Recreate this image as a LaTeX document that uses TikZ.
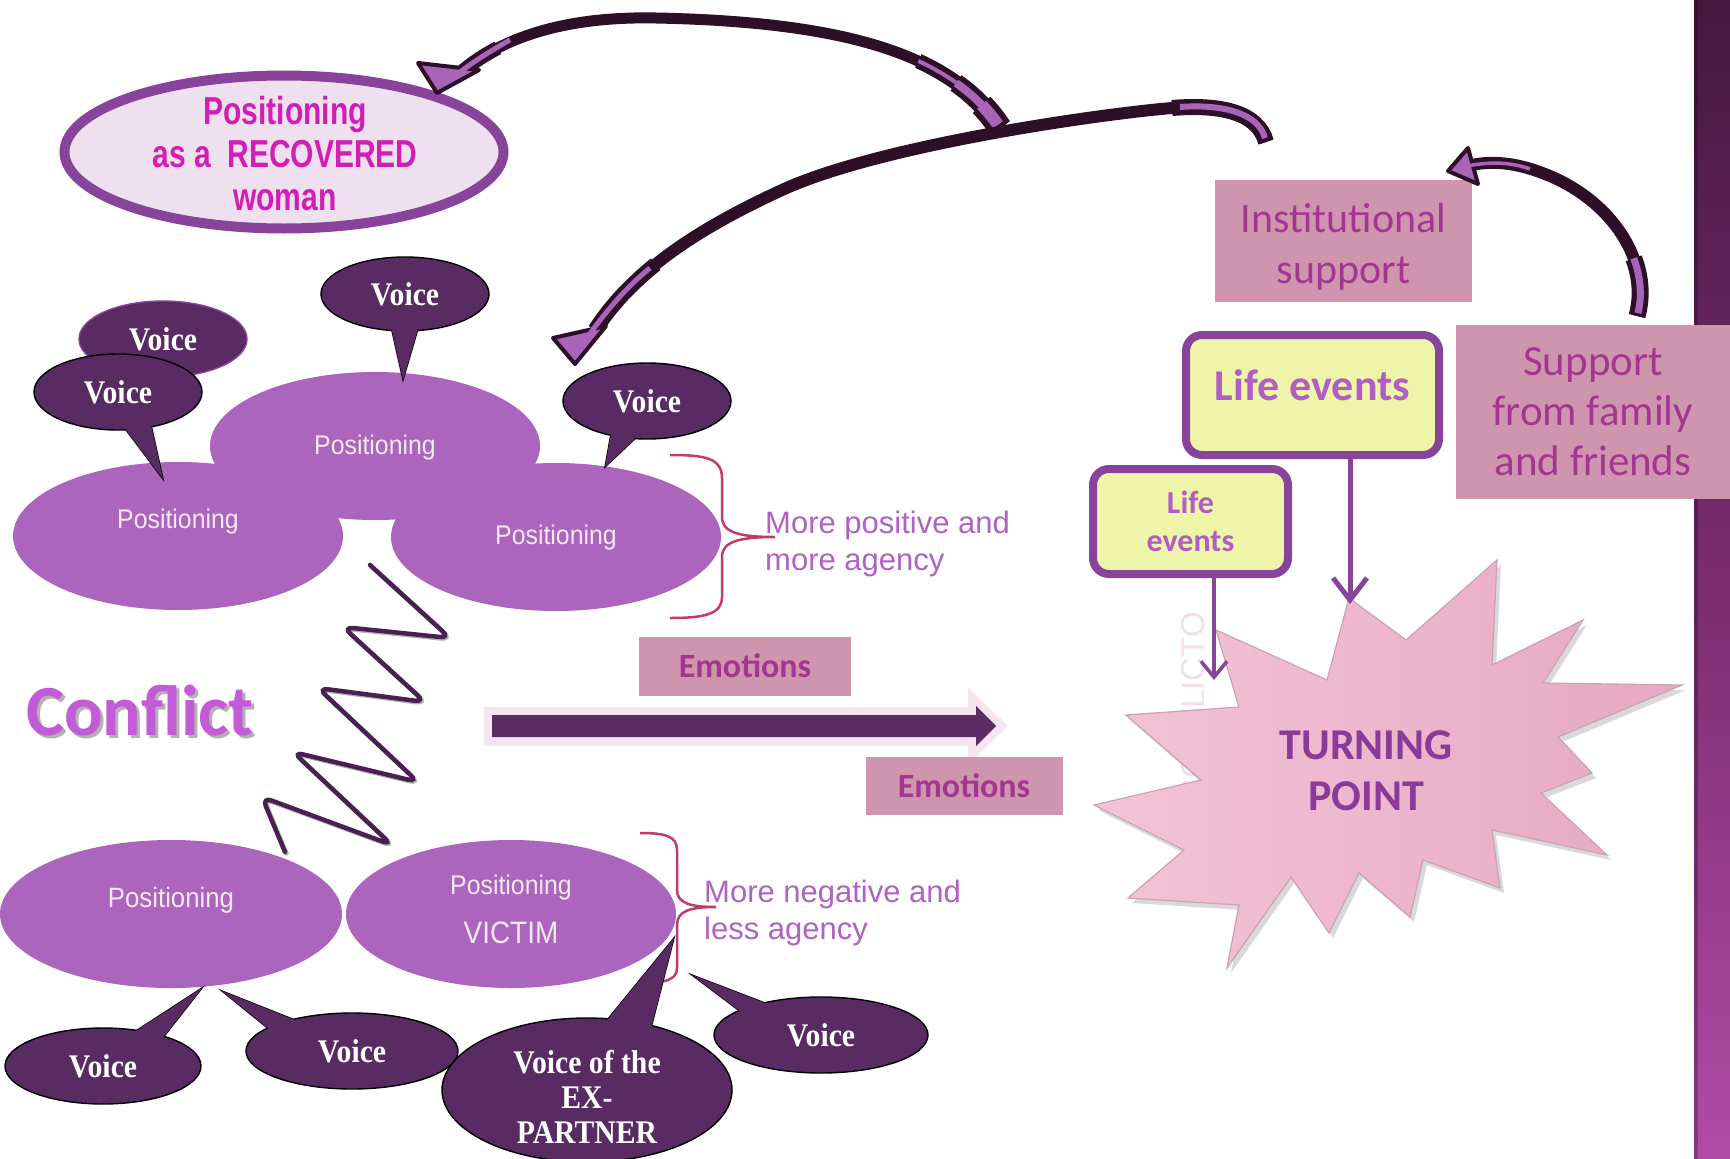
\documentclass[tikz,border=0pt]{standalone}
\usepackage{fontspec}
\usepackage{graphicx}
\setmainfont{Carlito}
\newfontfamily\arialf{Liberation Sans}
\newfontfamily\timesf{Liberation Serif}
\usetikzlibrary{shapes.geometric,arrows.meta}
\definecolor{posfill}{HTML}{AB65BD}
\definecolor{postext}{HTML}{F7E8F5}
\definecolor{voicefill}{HTML}{582B62}
\definecolor{arrdark}{HTML}{2D0F27}
\definecolor{arrpurp}{HTML}{A865B8}
\definecolor{bracecol}{HTML}{C13B6B}
\definecolor{sidetxt}{HTML}{B062C2}
\definecolor{pinkbox}{HTML}{CF95AE}
\definecolor{pinktxt}{HTML}{A2378F}
\definecolor{lifefill}{HTML}{EEF4A8}
\definecolor{lifeline}{HTML}{87449A}
\definecolor{lifetxt}{HTML}{B05EC5}
\definecolor{recfill}{HTML}{EFE0F0}
\definecolor{rectxt}{HTML}{D11FB5}
\definecolor{conflictc}{HTML}{C35AD7}
\definecolor{barrowout}{HTML}{F5E5EE}
\definecolor{barrowin}{HTML}{5A2C62}
\definecolor{zigc}{HTML}{4A1F52}
\definecolor{starc}{HTML}{8A3A98}
\definecolor{starlight}{HTML}{F3C4D6}
\definecolor{stardark}{HTML}{E6A8C2}
\definecolor{starline}{HTML}{C7A3B4}
\definecolor{bartop}{HTML}{451840}
\definecolor{barmid}{HTML}{7A2D70}
\definecolor{barbot}{HTML}{B24BA7}
\definecolor{faintc}{HTML}{F3DFE8}
\newcommand{\voicetxt}[1]{\scalebox{0.9}[1]{#1}}
\newcommand{\ptxtsc}[1]{\scalebox{0.92}[1]{#1}}
\newcommand{\rectxtsc}[1]{\scalebox{0.77}[1]{#1}}
\tikzset{
 posell/.style={ellipse, fill=posfill, inner sep=0pt, minimum width=330pt, minimum height=148pt},
 postxt/.style={text=postext, font=\arialf\fontsize{27}{36}\selectfont, inner sep=0pt, align=center},
 voiceell/.style={ellipse, fill=voicefill, draw=black, line width=1.4pt, inner sep=0pt, text=white, align=center, font=\timesf\bfseries\fontsize{33}{35}\selectfont},
 voicetext/.style={inner sep=0pt, text=white, align=center, font=\timesf\bfseries\fontsize{33}{35}\selectfont},
 tail/.style={fill=voicefill, draw=black, line width=1.4pt, line join=miter},
 tailfill/.style={fill=voicefill},
 pinkrect/.style={rectangle, fill=pinkbox, inner sep=0pt, text=pinktxt, align=center},
 pinktext/.style={inner sep=0pt, text=pinktxt, align=center},
 lifebox/.style={rectangle, rounded corners=16pt, fill=lifefill, draw=lifeline, line width=8pt, inner sep=0pt, text=lifetxt, align=center},
 bracest/.style={draw=bracecol, line width=2.5pt},
 sidetext/.style={text=sidetxt, font=\arialf\fontsize{31}{37}\selectfont, align=left, inner sep=0pt},
 curvebody/.style={draw=arrdark, line width=11pt},
 curvein/.style={draw=arrpurp, line width=4pt},
 curvehead/.style={fill=arrpurp, draw=arrdark, line width=4pt, line join=round},
 lifearrow/.style={draw=lifeline, line width=5pt, -{Straight Barb[length=22pt,width=34pt]}},
 lifearrowsm/.style={draw=lifeline, line width=3.5pt, -{Straight Barb[length=16pt,width=26pt]}},
}
\begin{document}
\begin{tikzpicture}[x=1pt,y=-1pt]
\useasboundingbox (0,0) rectangle (1730,1159);
\fill[white] (0,0) rectangle (1730,1159);

% right bar
\shade[top color=bartop, bottom color=barbot, middle color=barmid] (1694,0) rectangle (1730,1159);
\fill[black, opacity=0.25] (1694,0) rectangle (1698,1159);

% faint background word
\node[rotate=90, text=faintc, font=\arialf\fontsize{33}{33}\selectfont, inner sep=0pt] (cfto) at (1193,707) {CONFLICTO};

% star
\fill[black, opacity=0.15, shift={(4,5)}] (1216,630) -- (1327,680) -- (1349,598) -- (1406,640) -- (1497,560) -- (1492,665) -- (1583,620) -- (1543,683) -- (1682,685) -- (1558,737) -- (1592,773) -- (1541,793) -- (1607,855) -- (1492,830) -- (1500,888) -- (1423,860) -- (1410,917) -- (1359,873) -- (1329,933) -- (1291,877) -- (1227,968) -- (1239,905) -- (1128,898) -- (1184,850) -- (1094,805) -- (1201,780) -- (1126,715) -- (1239,707) -- cycle;
\shadedraw[left color=starlight, right color=stardark, draw=starline, line width=1.2pt, line join=miter] (1216,630) -- (1327,680) -- (1349,598) -- (1406,640) -- (1497,560) -- (1492,665) -- (1583,620) -- (1543,683) -- (1682,685) -- (1558,737) -- (1592,773) -- (1541,793) -- (1607,855) -- (1492,830) -- (1500,888) -- (1423,860) -- (1410,917) -- (1359,873) -- (1329,933) -- (1291,877) -- (1227,968) -- (1239,905) -- (1128,898) -- (1184,850) -- (1094,805) -- (1201,780) -- (1126,715) -- (1239,707) -- cycle;
\node[font=\bfseries\fontsize{44}{51}\selectfont, text=starc, align=center, inner sep=0pt] (tp) at (1366,771) {TURNING\\POINT};

% life events
\node[lifebox, minimum width=253pt, minimum height=120pt, font=\bfseries\fontsize{44}{50}\selectfont, text depth=19pt] (le2) at (1312.5,395) {Life events};
\node[lifebox, minimum width=195pt, minimum height=105pt, font=\bfseries\fontsize{32}{38}\selectfont] (le1) at (1190.5,521.5) {Life\\events};
\coordinate (tS) at (1214,680);
\coordinate (tB2) at (1350,604);
\draw[lifearrowsm] (le1.south -| tS) -- (tS);
\draw[lifearrow] (le2.south -| tB2) -- (tB2);

% support boxes
\node[pinkrect, minimum width=257pt, minimum height=122pt] (inst) at (1343.5,241) {};
\node[pinktext, font=\fontsize{42}{51}\selectfont] (instT) at (1343.5,247) {Institutional\\support};
\node[pinkrect, minimum width=274pt, minimum height=174pt, font=\fontsize{43}{50}\selectfont] (fam) at (1593,412) {Support\\from family\\and friends};

% arrow C (family -> institutional)
\coordinate (cT) at (1637,316);
\coordinate (cH) at (1472,165);
\draw[curvebody, line width=12pt] (cT) .. controls (1652,262) and (1612,200) .. (1545,174) .. controls (1520,164) and (1495,160) .. (cH);
\draw[draw=arrdark, line width=17pt] (cT) .. controls (1642.25,297.1) and (1640.8,277.2) .. (1633.7,258.3);
\draw[curvein, line width=7pt, shorten <=3pt] (cT) .. controls (1642.25,297.1) and (1640.8,277.2) .. (1633.7,258.3);
\filldraw[curvehead] (1468,148) -- (1448,171) -- (1478,184) -- cycle;
\draw[curvein, line width=3.5pt] (1530,169) .. controls (1510,162) and (1490,161) .. (1462,167);

% recovered ellipse
\node[ellipse, fill=recfill, draw=lifeline, line width=10pt, minimum width=439pt, minimum height=153pt, inner sep=0pt] (rec) at (284,152) {};
\node[text=rectxt, font=\arialf\bfseries\fontsize{39}{43}\selectfont, align=center, inner sep=0pt] (rect) at (285,154) {\rectxtsc{Positioning}\\\rectxtsc{as a~~RECOVERED}\\\rectxtsc{woman}};

% top positioning cluster
\node[posell] (pTop) at (375,446) {};
\node[posell] (pLeft) at (178,536) {};
\node[posell] (pRight) at (556,537) {};
\node[postxt] (pTopT) at (375,448) {\ptxtsc{Positioning}};
\node[postxt] (pLeftT) at (178,522) {\ptxtsc{Positioning}};
\node[postxt] (pRightT) at (556,538) {\ptxtsc{Positioning}};

% top voices
\node[voiceell, draw=lifeline, minimum width=168pt, minimum height=76pt] (tv1) at (163,339) {\voicetxt{Voice}};
\filldraw[tail] (120,422) -- (150,420) -- (163,479) -- cycle;
\node[voiceell, minimum width=168pt, minimum height=76pt] (tv2) at (118,392) {\voicetxt{Voice}};
\fill[tailfill] (120,422) -- (150,420) -- (163,479) -- cycle;
\filldraw[tail] (390,322) -- (420,322) -- (403,380) -- cycle;
\node[voiceell, minimum width=168pt, minimum height=74pt] (tv3) at (405,294) {\voicetxt{Voice}};
\fill[tailfill] (390,322) -- (420,322) -- (403,380) -- cycle;
\filldraw[tail] (612,428) -- (642,432) -- (605,467) -- cycle;
\node[voiceell, minimum width=168pt, minimum height=76pt] (tv4) at (647,401) {\voicetxt{Voice}};
\fill[tailfill] (612,428) -- (642,432) -- (605,467) -- cycle;

% top brace and text
\draw[bracest] (670,455) .. controls (705,455) and (722,458) .. (722,478) -- (722,517) .. controls (722,532) and (738,537) .. (775,537) .. controls (738,537) and (722,542) .. (722,557) -- (722,597) .. controls (722,614) and (705,618) .. (670,618);
\node[sidetext, anchor=west] (posT) at (765,544) {More positive and\\more agency};

% emotions and big arrow
\node[pinkrect, minimum width=212pt, minimum height=59pt, font=\bfseries\fontsize{34}{38}\selectfont] (emo1) at (745,666) {Emotions};
\fill[barrowout] (484,707) -- (968,707) -- (968,687) -- (1008,726) -- (968,765) -- (968,746) -- (484,746) -- cycle;
\fill[barrowin] (492,715) -- (976,715) -- (976,706) -- (996,726) -- (976,746) -- (976,737) -- (492,737) -- cycle;
\node[pinkrect, minimum width=197pt, minimum height=58pt, font=\bfseries\fontsize{34}{38}\selectfont] (emo2) at (964,785.5) {Emotions};

% conflict
\node[font=\bfseries\fontsize{72}{72}\selectfont, text=gray!60, inner sep=0pt] (conflS) at (143,713) {Conflict};
\node[font=\bfseries\fontsize{72}{72}\selectfont, text=conflictc, inner sep=0pt] (confl) at (140,710) {Conflict};

% zigzag
\draw[black!30, line width=4.5pt, rounded corners=10pt, line cap=round, shift={(1.5,1.5)}] (370,565) -- (450,638) -- (343,627) -- (425,702) -- (318,688) -- (418,782) -- (293,752) -- (392,845) -- (262,797) -- (285,852);
\draw[zigc, line width=4.5pt, rounded corners=10pt, line cap=round] (370,565) -- (450,638) -- (343,627) -- (425,702) -- (318,688) -- (418,782) -- (293,752) -- (392,845) -- (262,797) -- (285,852);

% bottom positioning
\node[posell, minimum width=342pt] (pBL) at (171,914) {};
\node[posell] (pV) at (511,914) {};
\node[postxt, font=\arialf\fontsize{28}{36}\selectfont] (pBLT) at (171,900) {\ptxtsc{Positioning}};
\node[postxt] (pVT1) at (511,888) {\ptxtsc{Positioning}};
\node[postxt, font=\arialf\fontsize{31}{36}\selectfont] (pVT2) at (511,933) {\voicetxt{VICTIM}};

% bottom brace and text
\draw[bracest] (640,833) .. controls (665,833) and (677,836) .. (677,850) -- (677,890) .. controls (677,903) and (690,907) .. (716,907) .. controls (690,907) and (677,911) .. (677,925) -- (677,968) .. controls (677,980) and (665,983) .. (640,983);
\node[sidetext, anchor=west] (negT) at (704,913) {More negative and\\less agency};

% bottom voices
\filldraw[tail] (125,1038) -- (158,1044) -- (202,988) -- cycle;
\node[voiceell, minimum width=196pt, minimum height=76pt] (bv1) at (103,1066) {\voicetxt{Voice}};
\fill[tailfill] (125,1038) -- (158,1044) -- (202,988) -- cycle;
\filldraw[tail] (270,1030) -- (305,1024) -- (222,991) -- cycle;
\node[voiceell, minimum width=212pt, minimum height=76pt] (bv2) at (352,1051) {\voicetxt{Voice}};
\fill[tailfill] (270,1030) -- (305,1024) -- (222,991) -- cycle;
\filldraw[tail] (603,1025) -- (650,1032) -- (674,938) -- cycle;
\node[voiceell, minimum width=290pt, minimum height=144pt] (bv3) at (587,1090) {};
\fill[tailfill] (603,1025) -- (650,1032) -- (674,938) -- cycle;
\node[voicetext] (bv3T) at (587,1097) {\voicetxt{Voice of the}\\\voicetxt{EX-}\\\voicetxt{PARTNER}};
\filldraw[tail] (745,1015) -- (778,1008) -- (692,975) -- cycle;
\node[voiceell, minimum width=214pt, minimum height=76pt] (bv4) at (821,1035) {\voicetxt{Voice}};
\fill[tailfill] (745,1015) -- (778,1008) -- (692,975) -- cycle;

% arrow A (junction -> recovered ellipse)
\coordinate (jA) at (1000,128);
\coordinate (hA) at (455,78);
\draw[curvebody] (jA) .. controls (955,60) and (860,22) .. (656,18) .. controls (560,16) and (495,40) .. (hA);
\draw[draw=arrdark, line width=15pt] (jA) .. controls (982,100.8) and (956,78.4) .. (918.3,61);
\draw[draw=arrdark, line width=19pt] (jA) .. controls (988.75,111) and (974.4,95.9) .. (956,83);
\draw[draw=arrdark, line width=24pt] (jA) .. controls (994.6,119.84) and (988.5,112.1) .. (981.5,104.8);
\draw[curvein, line width=4pt, shorten <=4pt] (jA) .. controls (982,100.8) and (956,78.4) .. (918.3,61);
\draw[curvein, line width=8pt, shorten <=4pt] (jA) .. controls (988.75,111) and (974.4,95.9) .. (956,83);
\draw[curvein, line width=12pt, shorten <=4pt] (jA) .. controls (994.6,119.84) and (988.5,112.1) .. (981.5,104.8);
\draw[draw=arrdark, line width=14pt] (497.9,47.9) .. controls (481.25,56.5) and (467,66.6) .. (hA);
\filldraw[curvehead] (418,63) -- (437,93) -- (479,70) -- cycle;
\draw[curvein, line width=5pt] (510,40) .. controls (485,54) and (467,66) .. (450,80);

% arrow B (right tail -> upper voice)
\coordinate (tBb) at (1266,142);
\coordinate (hB) at (595,330);
\draw[curvebody, line width=12pt] (tBb) .. controls (1258,112) and (1220,104) .. (1172,108) .. controls (1100,114) and (880,145) .. (782,190) .. controls (704,226) and (635,268) .. (hB);
\draw[draw=arrdark, line width=16pt] (tBb) .. controls (1258,112) and (1220,104) .. (1172,108);
\draw[curvein, line width=6pt, shorten <=4pt] (tBb) .. controls (1258,112) and (1220,104) .. (1180,107);
\draw[draw=arrdark, line width=15pt] (655.6,264.3) .. controls (631.6,283.6) and (611,305.2) .. (hB);
\filldraw[curvehead] (553,338) -- (575,364) -- (606,326) -- cycle;
\draw[curvein, line width=5pt] (650,268) .. controls (628,286) and (608,308) .. (584,342);
\end{tikzpicture}
\end{document}
